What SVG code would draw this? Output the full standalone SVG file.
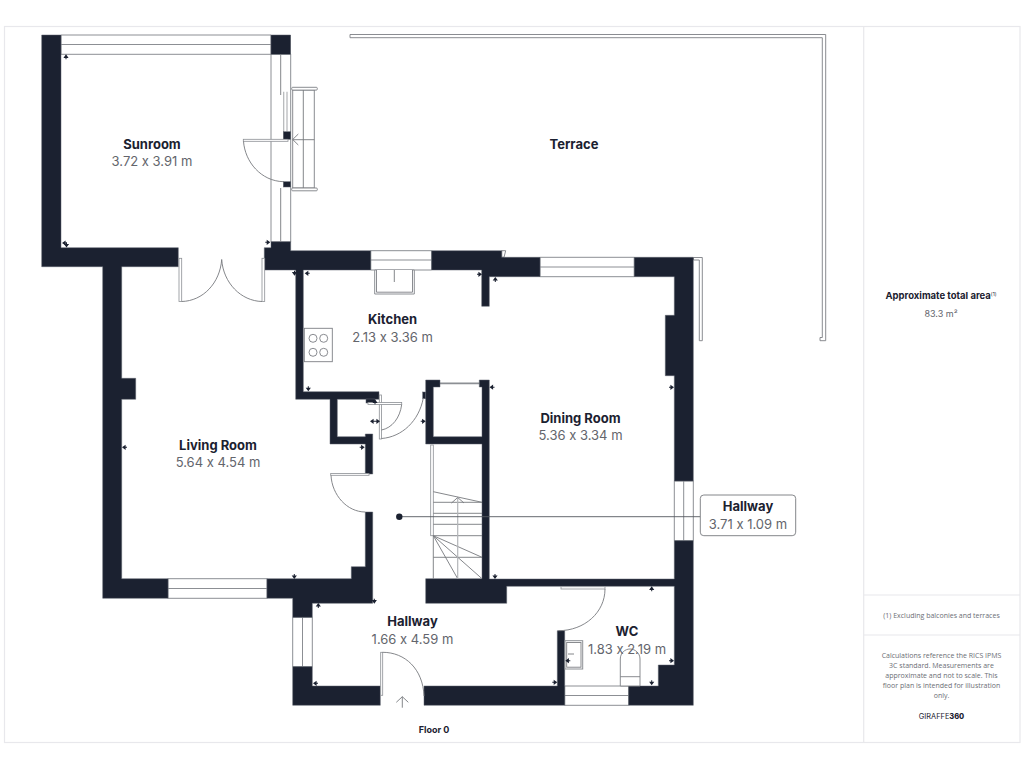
<svg xmlns="http://www.w3.org/2000/svg" width="1024" height="768" viewBox="0 0 1024 768">
<style>
.bg{fill:#fff}
.frame{fill:none;stroke:#e8e8ec;stroke-width:1.2}
.wall{fill:#1b2130;stroke:#5d626c;stroke-width:.5}
.win{fill:#fff;stroke:#8c8f94;stroke-width:1}
.thin{fill:none;stroke:#77797e;stroke-width:.9}
.fix{fill:#fff;stroke:#7d7f84;stroke-width:.9}
.leaf{fill:#fff;stroke:#8c8f94;stroke-width:.8}
.gray{fill:none;stroke:#b3b5b8;stroke-width:1.2}
.tick{fill:#1b2130}
text{font-family:"Inter","Noto Sans","Liberation Sans",sans-serif;text-anchor:middle;font-feature-settings:"calt" 0;font-variant-ligatures:none}
.n{font-size:13px;font-weight:700;fill:#1b2130}
.d{font-size:13px;font-weight:400;fill:#63656c}
.p{font-family:"Open Sans","Noto Sans",sans-serif;font-size:7px;fill:#6b6e75}
.pb{font-size:9.5px;font-weight:700;fill:#1b2130}
.pd{font-size:9px;fill:#63656c}
</style>
<defs>
<path id="tu" class="tick" d="M0-3 2.6 .6H.5V2H-.5V.6H-2.6Z"/>
<path id="tr" class="tick" d="M3 0-.6-2.6V-.5H-2V.5H-.6V2.6Z"/>
<path id="td" class="tick" d="M0 3-2.6-.6H-.5V-2H.5V-.6H2.6Z"/>
<path id="tl" class="tick" d="M-3 0 .6-2.6V-.5H2V.5H.6V2.6Z"/>
</defs>
<rect class="bg" width="1024" height="768"/>
<g id="frame">
<rect class="frame" x="4.5" y="26.5" width="1015.5" height="716"/>
<path class="frame" d="M863.7 26.5V742.5M863.7 595H1020M863.7 635H1020"/>
</g>
<g id="terrace">
<path class="fix" d="M350 34.5H825.7V340.7H820V337.5H822.3V37.7H350Z"/>
<path class="fix" d="M693.5 257.5H702.3V340.7H699.3V260H693.5Z"/>
<path class="fix" d="M501.7 250.7H505.7L504 257.3H501.7Z"/>
<text class="n" x="574" y="149">Terrace</text>
</g>
<g id="deck">
<path class="fix" d="M292.7 90H314.3V188H292.7Z"/>
<path class="thin" d="M303.3 90V188M292.7 139.7H314.3M298.3 134 292.7 139.5 298.3 145"/>
<rect class="fix" x="291.7" y="87.3" width="25.6" height="2.8" rx="1"/>
<rect class="fix" x="291.7" y="188" width="25.6" height="2.8" rx="1"/>
</g>
<g id="windows">
<path class="win" d="M61 35H271V54.3H61ZM61 44.5H271"/>
<path class="win" d="M271 54H290.7V242H271Z"/>
<path class="win" d="M370.7 250.7H431.7V270H370.7ZM370.7 260H431.7"/>
<path class="win" d="M540 257.3H634.3V276.7H540ZM540 267H634.3"/>
<path class="win" d="M168 578.7H267V598.3H168ZM168 588.5H267"/>
<path class="win" d="M292.7 617.3H312.3V666.7H292.7ZM302.5 617.3V666.7"/>
<path class="win" d="M674.3 481H693.3V540.7H674.3ZM683.7 481V540.7"/>
<path class="win" d="M564.7 686H628.7V705.3H564.7ZM564.7 695.5H628.7"/>
<path class="win" d="M440 383.3H479.3" style="stroke-width:1.8"/>
</g>
<g id="walls">
<path class="wall" d="M41.7 35H61V247.7H178.3V266.7H121.7V378.3H135.7V399.3H121.7V578.7H168V598.3H102.7V266.7H41.7Z"/>
<path class="wall" d="M267 578.7H351.3V566.7H365.3V512H372.7V603.3H312.3V617.3H292.7V598.3H267Z"/>
<rect class="wall" x="271" y="35" width="19.7" height="19.3"/>
<path class="wall" d="M271 241.7H290.7V250.7H370.7V270H303.3V391.7H379V399.3H337.3V436.7H365.3V434H372.7V474H365.3V444H330V399.3H295.7V270H264.3V247.7H271Z"/>
<path class="wall" d="M431.7 250.7H501.7V257.3H540V276.7H489.3V306.3H481.7V270H431.7Z"/>
<path class="wall" d="M634.3 257.3H693.3V481H674.3V375.7H665.3V315.3H674.3V276.7H634.3Z"/>
<path class="wall" d="M674.3 540.7H693.3V705.3H628.7V686H658.3V665H674.3V586.3H506.7V603.3H425.7V578.7H482V444H425.7V380H440V387H433.3V436.7H482V387H479.3V380H489.3V579H674.3Z"/>
<path class="wall" d="M292.7 666.7H312.3V686H380.3V705.3H292.7Z"/>
<path class="wall" d="M424 686H557.3V630.7H564.7V705.3H424Z"/>
<rect class="wall" x="422.7" y="392" width="3" height="6.7"/>
<rect class="wall" x="366" y="399" width="9" height="4"/>
</g>
<g id="sunroom-door">
<path class="thin" d="M280.7 54V95M280.7 188V241.7"/>
<path class="gray" d="M283.7 91.7V131.5M287 91.7V131.5"/>
<rect class="wall" x="283.3" y="131.7" width="7.4" height="7.6"/>
<rect class="wall" x="283.3" y="181.7" width="7.4" height="5.3"/>
<rect class="leaf" x="243.3" y="139.3" width="44.7" height="2"/>
<path class="thin" d="M243.5 141.3C245 162 261 181 283.3 181.7"/>
</g>
<g id="doors">
<rect class="leaf" x="179" y="258.3" width="2.7" height="43.2"/>
<rect class="leaf" x="262" y="258.3" width="2.7" height="43.2"/>
<path class="thin" d="M181.7 301.5C203 301 220 283 221.7 259.5C223.3 283 241 301 262 301.5"/>
<rect class="leaf" x="379.3" y="395" width="2.2" height="44"/>
<rect class="leaf" x="368" y="402.5" width="33.7" height="2"/>
<path class="thin" d="M401.7 404.5C400 418 392 428 381.5 430M423.3 398C419 421 402 437 381.5 438.5"/>
<rect class="leaf" x="330.7" y="473.5" width="38.3" height="1.8"/>
<path class="thin" d="M331 475.3C332 495 347 512 365.3 512"/>
<rect class="leaf" x="380.7" y="652.3" width="2" height="43"/>
<path class="thin" d="M382.7 652.3C405 652.3 423 669 424 696"/>
<rect class="leaf" x="561" y="586.7" width="44" height="2.3"/>
<path class="thin" d="M605 589C605 612 585 630.7 558.3 630.7"/>
<path class="thin" d="M396.3 702.3 402.3 696.7 408.3 702.3M402.3 696.7V707.7"/>
</g>
<g id="stairs">
<rect class="leaf" x="430.7" y="445" width="2.6" height="90.7"/>
<path class="thin" d="M433.3 491.7 482 502.3M433.3 502.3H482M433.3 513.3H482M433.3 524.3H482M433.3 535.7H482M433.3 535.7V578.7M433.3 535.7 482 557.3M433.3 557.3H482M433.3 535.7 457.7 578.7M433.3 535.7 482 578.7"/>
<path class="gray" d="M457.7 498V578.7"/>
<path class="thin" d="M451.5 503 457.7 497.5 464 503"/>
</g>
<g id="fixtures">
<path class="win" d="M374.7 270H414.3V294H374.7Z"/>
<path class="fix" d="M376.5 270V292.2H412.5V270"/>
<path class="thin" d="M394.3 270V282"/>
<rect class="fix" x="304.3" y="328.3" width="28" height="33.4"/>
<circle class="fix" cx="313" cy="338.3" r="4"/>
<circle class="fix" cx="323.7" cy="338.3" r="4"/>
<circle class="fix" cx="313" cy="352.3" r="4"/>
<circle class="fix" cx="323.7" cy="352.3" r="4"/>
<rect class="win" x="565" y="640.7" width="17.7" height="28.3"/>
<rect class="fix" x="566.7" y="642.5" width="14.3" height="24.7"/>
<path class="thin" d="M568 654H574"/>
<path class="fix" d="M620.3 686V659C620.3 653 625 649 630 649C635 649 640 653 640 659V686ZM620.3 676.7H640"/>
</g>
<g id="ticks">
<use href="#tu" x="66" y="57.3"/><use href="#tl" x="65" y="243"/><use href="#td" x="66.5" y="244.5"/>
<use href="#tr" x="267.3" y="242.3"/><use href="#td" x="294.5" y="272.7"/><use href="#tl" x="307.7" y="273.3"/>
<use href="#td" x="308.3" y="388.3"/><use href="#tu" x="375" y="402.3"/><use href="#tl" x="373" y="421.3"/><use href="#tr" x="377" y="421.3"/>
<use href="#tr" x="422.7" y="421.3"/><use href="#tr" x="361.7" y="447.3"/><use href="#tl" x="492.5" y="387.2"/>
<use href="#tr" x="479" y="274.3"/><use href="#tu" x="495.3" y="280"/><use href="#tr" x="671" y="387.3"/>
<use href="#tu" x="651.7" y="589.3"/><use href="#tr" x="671" y="660.7"/><use href="#td" x="651.7" y="682.3"/>
<use href="#tr" x="554.3" y="682.3"/><use href="#tl" x="568.3" y="660.7"/><use href="#td" x="294.3" y="576"/>
<use href="#td" x="374.3" y="600.7"/><use href="#tu" x="318.3" y="606"/><use href="#tl" x="316" y="683.3"/>
<use href="#td" x="495" y="576"/><use href="#tl" x="125" y="447.3"/>
</g>
<g id="connectors">
<path d="M399.3 516.7H700.3" fill="none" stroke="#55585f" stroke-width=".9"/>
<circle cx="399.3" cy="516.7" r="3.2" fill="#1b2130"/>
</g>
<g id="room-sunroom"><text class="n" x="152" y="149">Sunroom</text><text class="d" x="152" y="166">3.72 x 3.91 m</text></g>
<g id="room-kitchen"><text class="n" x="392.5" y="324">Kitchen</text><text class="d" x="392.5" y="342">2.13 x 3.36 m</text></g>
<g id="room-living"><text class="n" x="218" y="449.5">Living Room</text><text class="d" x="218" y="467">5.64 x 4.54 m</text></g>
<g id="room-dining"><text class="n" x="580.5" y="422.5">Dining Room</text><text class="d" x="580.5" y="440">5.36 x 3.34 m</text></g>
<g id="room-hallway"><text class="n" x="412.5" y="626">Hallway</text><text class="d" x="412.5" y="644">1.66 x 4.59 m</text></g>
<g id="room-wc"><text class="n" x="627" y="636">WC</text><text class="d" x="627" y="654">1.83 x 2.19 m</text></g>
<g id="label-hallway">
<rect x="700.3" y="495" width="95.4" height="40.7" rx="3.5" fill="#fff" stroke="#77797e" stroke-width=".9"/>
<text class="n" x="748" y="511">Hallway</text><text class="d" x="748" y="528.7">3.71 x 1.09 m</text>
</g>
<text class="n" x="434" y="733" style="font-size:9px">Floor 0</text>
<g id="panel">
<text class="pb" x="941" y="299">Approximate total area<tspan font-size="5" font-weight="400" dy="-3">(1)</tspan></text>
<text class="pd" x="941" y="317">83.3 m²</text>
<text class="p" x="941.5" y="618">(1) Excluding balconies and terraces</text>
<text class="p" x="941.5" y="658">Calculations reference the RICS IPMS</text>
<text class="p" x="941.5" y="668">3C standard. Measurements are</text>
<text class="p" x="941.5" y="678">approximate and not to scale. This</text>
<text class="p" x="941.5" y="688">floor plan is intended for illustration</text>
<text class="p" x="941.5" y="698">only.</text>
<text x="941.5" y="719" style="font-size:7.4px;fill:#1b2130">GIRAFFE<tspan font-weight="800">360</tspan></text>
</g>
</svg>
